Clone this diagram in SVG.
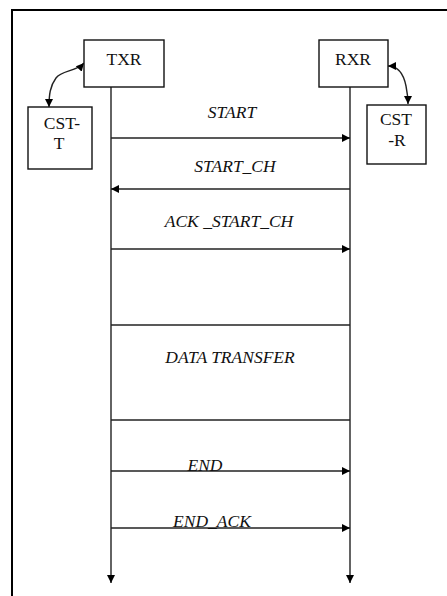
<svg xmlns="http://www.w3.org/2000/svg" width="447" height="596" viewBox="0 0 447 596">
<defs>
<marker id="ah" viewBox="0 0 10 10" refX="10" refY="5" markerWidth="8" markerHeight="8" markerUnits="userSpaceOnUse" orient="auto-start-reverse">
<path d="M0,0 L10,5 L0,10 Z" fill="#000"/>
</marker>
<marker id="ahl" viewBox="0 0 10 10" refX="10" refY="5" markerWidth="10" markerHeight="8" markerUnits="userSpaceOnUse" orient="auto">
<path d="M0,0 L10,5 L0,10 Z" fill="#000"/>
</marker>
</defs>
<style>
.box{fill:#fff;stroke:#111;stroke-width:1.4}
.lbl{font-family:"Liberation Serif","Times New Roman",serif;font-size:17.5px;fill:#111;text-anchor:middle}
.msg{font-family:"Liberation Serif","Times New Roman",serif;font-size:17.5px;font-style:italic;fill:#111;text-anchor:middle}
.ln{stroke:#222;stroke-width:1.4;fill:none}
</style>
<rect x="0" y="0" width="447" height="596" fill="#fff"/>
<rect id="frame" x="12" y="10" width="450" height="600" fill="none" stroke="#000" stroke-width="2"/>
<g id="connectors">
<line class="ln" x1="111" y1="87" x2="111" y2="583" marker-end="url(#ahl)"/>
<line class="ln" x1="350" y1="87" x2="350" y2="583" marker-end="url(#ahl)"/>
<line class="ln" x1="111" y1="138" x2="350" y2="138" marker-end="url(#ahl)"/>
<line class="ln" x1="350" y1="189" x2="111" y2="189" marker-end="url(#ahl)"/>
<line class="ln" x1="111" y1="249" x2="350" y2="249" marker-end="url(#ahl)"/>
<line class="ln" x1="111" y1="325" x2="350" y2="325"/>
<line class="ln" x1="111" y1="420" x2="350" y2="420"/>
<line class="ln" x1="111" y1="471" x2="350" y2="471" marker-end="url(#ahl)"/>
<line class="ln" x1="111" y1="528" x2="350" y2="528" marker-end="url(#ahl)"/>
<path class="ln" d="M84 63 C76 72, 62 70, 56 78 S49 95, 49 107" marker-start="url(#ah)" marker-end="url(#ah)"/>
<path class="ln" d="M388 66 C400 66, 404 76, 406 86 S408 98, 408 104" marker-start="url(#ah)" marker-end="url(#ah)"/>
</g>
<g id="txr">
<rect class="box" x="84" y="40" width="80" height="47"/>
<text class="lbl" x="124" y="65">TXR</text>
</g>
<g id="rxr">
<rect class="box" x="319" y="40" width="69" height="47"/>
<text class="lbl" x="353" y="65">RXR</text>
</g>
<g id="cst-t">
<rect class="box" x="28" y="107" width="64" height="62"/>
<text class="lbl" x="62" y="129">CST-</text>
<text class="lbl" x="59" y="149">T</text>
</g>
<g id="cst-r">
<rect class="box" x="367" y="105" width="59" height="59"/>
<text class="lbl" x="396" y="125">CST</text>
<text class="lbl" x="397" y="146">-R</text>
</g>
<g id="labels">
<text class="msg" x="232" y="118">START</text>
<text class="msg" x="235" y="172">START_CH</text>
<text class="msg" x="229" y="227">ACK _START_CH</text>
<text class="msg" x="230" y="363">DATA TRANSFER</text>
<text class="msg" x="205" y="471">END</text>
<text class="msg" x="212" y="527">END_ACK</text>
</g>
</svg>
